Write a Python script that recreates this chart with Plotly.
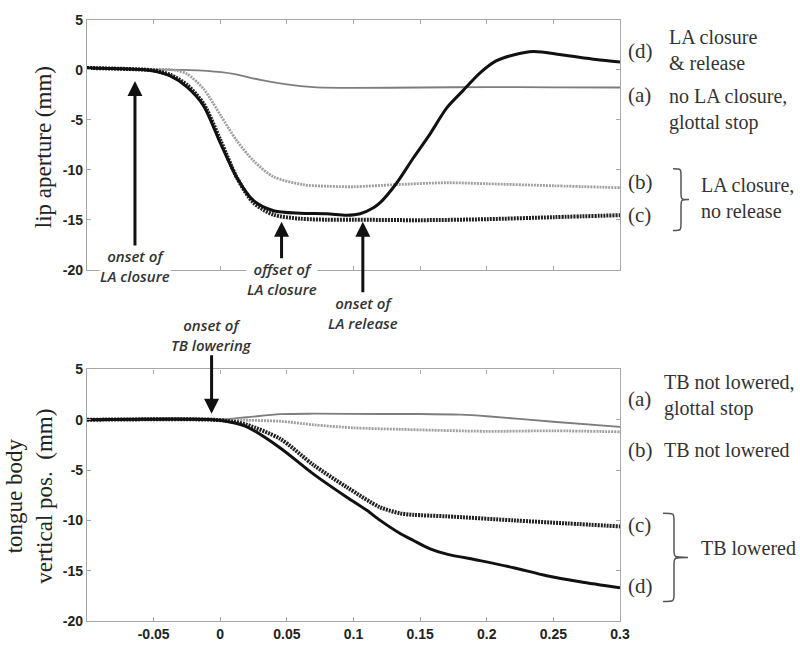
import plotly.graph_objects as go

# ---------------- data: top panel (lip aperture, mm) ----------------
la_a_x = [-0.1, -0.06, -0.03, -0.01, 0.01, 0.03, 0.05, 0.07, 0.1, 0.15, 0.2, 0.25, 0.3]
la_a_y = [0.2, 0.05, 0.0, -0.1, -0.4, -1.0, -1.45, -1.72, -1.8, -1.76, -1.72, -1.74, -1.76]

la_b_x = [-0.1, -0.06, -0.035, -0.025, -0.0125, 0.0, 0.0125, 0.025, 0.04, 0.0625, 0.08, 0.1, 0.13, 0.17, 0.2, 0.25, 0.3]
la_b_y = [0.2, 0.05, 0.0, -0.4, -1.9, -4.5, -7.1, -9.1, -10.7, -11.5, -11.65, -11.7, -11.5, -11.3, -11.4, -11.6, -11.8]

la_c_x = [-0.1, -0.06, -0.05, -0.0375, -0.025, -0.0125, 0.0, 0.0125, 0.025, 0.04, 0.06, 0.08, 0.1, 0.15, 0.2, 0.25, 0.3]
la_c_y = [0.2, 0.05, -0.05, -0.5, -1.5, -3.4, -7.0, -10.8, -13.3, -14.5, -14.9, -15.0, -15.0, -15.05, -14.95, -14.75, -14.55]

la_d_x = [-0.1, -0.06, -0.05, -0.0375, -0.025, -0.0125, 0.0, 0.0125, 0.025, 0.04, 0.06, 0.08, 0.095, 0.105,
          0.115, 0.12, 0.132, 0.145, 0.157, 0.17, 0.182, 0.195, 0.207, 0.22, 0.235, 0.257, 0.282, 0.3]
la_d_y = [0.2, 0.05, -0.1, -0.6, -1.7, -3.6, -7.3, -10.8, -13.1, -14.1, -14.35, -14.4, -14.55, -14.4,
          -13.8, -13.3, -11.4, -8.8, -6.5, -3.8, -2.1, -0.3, 0.9, 1.5, 1.85, 1.5, 1.05, 0.8]

# ---------------- data: bottom panel (tongue body vertical pos., mm) ----------------
tb_a_x = [-0.1, -0.01, 0.0, 0.02, 0.045, 0.07, 0.12, 0.15, 0.18, 0.2, 0.25, 0.3]
tb_a_y = [0.0, 0.0, 0.02, 0.25, 0.55, 0.6, 0.57, 0.57, 0.5, 0.35, -0.2, -0.7]

tb_b_x = [-0.1, 0.0, 0.02, 0.045, 0.07, 0.1, 0.135, 0.2, 0.25, 0.3]
tb_b_y = [0.0, 0.0, -0.05, -0.15, -0.5, -0.8, -0.95, -1.15, -1.1, -1.2]

tb_c_x = [-0.1, -0.005, 0.01, 0.02, 0.045, 0.07, 0.095, 0.12, 0.135, 0.145, 0.17, 0.22, 0.26, 0.3]
tb_c_y = [0.0, 0.0, -0.2, -0.5, -1.9, -4.5, -6.7, -8.7, -9.3, -9.45, -9.6, -10.0, -10.3, -10.6]

tb_d_x = [-0.1, -0.005, 0.01, 0.02, 0.045, 0.07, 0.095, 0.11, 0.12, 0.135, 0.145, 0.157, 0.17, 0.195, 0.22, 0.245, 0.27, 0.3]
tb_d_y = [0.0, 0.0, -0.3, -0.7, -2.8, -5.4, -7.7, -9.0, -10.0, -11.3, -12.0, -12.8, -13.35, -14.0, -14.7, -15.5, -16.1, -16.7]

x_ticks = [-0.05, 0, 0.05, 0.1, 0.15, 0.2, 0.25, 0.3]
x_tick_text = ["-0.05", "0", "0.05", "0.1", "0.15", "0.2", "0.25", "0.3"]
y_ticks = [-20, -15, -10, -5, 0, 5]
y_tick_text = ["-20", "-15", "-10", "-5", "0", "5"]

# ---------------- layout geometry ----------------
W, H = 800, 654
ML, MR, MT, MB = 87, 180, 13, 27
PW, PH = W - ML - MR, H - MT - MB


def px(x):
    return (x - ML) / PW


def py(y):
    return 1 - (y - MT) / PH


TOP_DOM = [py(268), 1.0]
BOT_DOM = [0.0, py(370)]

GRAY_SOLID = "#7d7d7d"
GRAY_DOT = "#a0a0a0"
BLACK = "#111111"
DENSE = "2px,1px"

fig = go.Figure()


def add(x, y, color, width, dash, axis):
    fig.add_trace(go.Scatter(
        x=x, y=y, mode="lines",
        line=dict(color=color, width=width, dash=dash, shape="spline", smoothing=0.8),
        xaxis="x" if axis == 1 else "x2", yaxis="y" if axis == 1 else "y2",
        showlegend=False, hoverinfo="skip"))


add(la_a_x, la_a_y, GRAY_SOLID, 1.8, "solid", 1)
add(la_b_x, la_b_y, GRAY_DOT, 2.8, DENSE, 1)
add(la_c_x, la_c_y, "#222222", 4, DENSE, 1)
add(la_d_x, la_d_y, BLACK, 3, "solid", 1)

add(tb_a_x, tb_a_y, GRAY_SOLID, 1.8, "solid", 2)
add(tb_b_x, tb_b_y, GRAY_DOT, 2.8, DENSE, 2)
add(tb_c_x, tb_c_y, "#222222", 4, DENSE, 2)
add(tb_d_x, tb_d_y, BLACK, 3, "solid", 2)

tick_font = dict(family="Liberation Sans, Arial", size=14, color="#222222", weight="bold")
axis_common = dict(showline=True, linecolor="#a8a8a8", linewidth=1.2, mirror="ticks",
                   ticks="inside", ticklen=4, tickcolor="#a8a8a8", showgrid=False,
                   zeroline=False, tickfont=tick_font)

fig.update_layout(
    width=W, height=H,
    margin=dict(l=ML, r=MR, t=MT, b=MB),
    paper_bgcolor="white", plot_bgcolor="white",
    xaxis=dict(domain=[0, 1], range=[-0.1, 0.3], anchor="y", tickvals=x_ticks,
               showticklabels=False, **axis_common),
    yaxis=dict(domain=TOP_DOM, range=[-20, 5], anchor="x", tickvals=y_ticks,
               ticktext=y_tick_text, **axis_common),
    xaxis2=dict(domain=[0, 1], range=[-0.1, 0.3], anchor="y2", tickvals=x_ticks,
                ticktext=x_tick_text, **axis_common),
    yaxis2=dict(domain=BOT_DOM, range=[-20, 5], anchor="x2", tickvals=y_ticks,
                ticktext=y_tick_text, **axis_common),
)

# ---------------- annotations ----------------
ital = dict(family="Open Sans, Liberation Sans", size=15, color="#333333", style="italic", weight=600)
serif = dict(family="Liberation Serif, Times New Roman", size=20, color="#333333")
tag = dict(family="Liberation Serif, Times New Roman", size=21, color="#333333")
title_font = dict(family="Liberation Serif, Times New Roman", size=23, color="#222222")

anns = []


def arrow(text, x, y, ay, xref="x", yref="y"):
    anns.append(dict(text=text, x=x, y=y, xref=xref, yref=yref, ax=0, ay=ay,
                     showarrow=True, arrowhead=2, arrowsize=1, arrowwidth=3,
                     arrowcolor="#111111", font=ital, bgcolor="white",
                     align="center", borderpad=0))


arrow("onset of<br>LA closure", -0.064, -1.1, 185)
arrow("offset of<br>LA closure", 0.046, -15.2, 57)
arrow("onset of<br>LA release", 0.107, -15.2, 91)
arrow("onset of<br>TB lowering", -0.0065, 0.6, -79, "x2", "y2")


def label(text, x_px, y_px, font=serif, xanchor="left"):
    anns.append(dict(text=text, x=px(x_px), y=py(y_px), xref="paper", yref="paper",
                     xanchor=xanchor, yanchor="middle", showarrow=False, font=font,
                     align="left"))


label("(d)", 626, 45, tag)
label("LA closure<br>& release", 667, 44)
label("(a)", 626, 90, tag)
label("no LA closure,<br>glottal stop", 667, 104)
label("(b)", 626, 179, tag)
label("(c)", 626, 212, tag)
label("LA closure,<br>no release", 699, 195)

label("(a)", 626, 400, tag)
label("TB not lowered,<br>glottal stop", 662, 397)
label("(b)", 626, 452, tag)
label("TB not lowered", 662, 452)
label("(c)", 626, 529, tag)
label("(d)", 626, 591, tag)
label("TB lowered", 699, 552)

anns.append(dict(text="lip aperture (mm)", x=px(43), y=py(143), xref="paper", yref="paper",
                 xanchor="center", yanchor="middle", textangle=-90, showarrow=False,
                 font=title_font))
anns.append(dict(text="tongue body<br>vertical pos.  (mm)", x=px(30), y=py(500), xref="paper",
                 yref="paper", xanchor="center", yanchor="middle", textangle=-90,
                 showarrow=False, font=title_font))

fig.update_layout(annotations=anns)


# ---------------- braces ----------------
def brace(xl, xm, xr, yt, yb):
    r = 7
    ym = (yt + yb) / 2
    P = lambda a, b: f"{px(a):.5f},{py(b):.5f}"
    d = (f"M {P(xl, yt)} C {P(xm, yt)} {P(xm, yt)} {P(xm, yt + r)} "
         f"L {P(xm, ym - r)} C {P(xm, ym)} {P(xm, ym)} {P(xr, ym)} "
         f"C {P(xm, ym)} {P(xm, ym)} {P(xm, ym + r)} "
         f"L {P(xm, yb - r)} C {P(xm, yb)} {P(xm, yb)} {P(xl, yb)}")
    fig.add_shape(type="path", path=d, xref="paper", yref="paper",
                  line=dict(color="#555555", width=1.5))


brace(673, 681, 689, 165, 228)
brace(663, 674, 688, 517, 607)

fig.write_html("out.html", config={"displayModeBar": False},
               post_script="document.body.style.margin='0';document.body.style.overflow='hidden';")
